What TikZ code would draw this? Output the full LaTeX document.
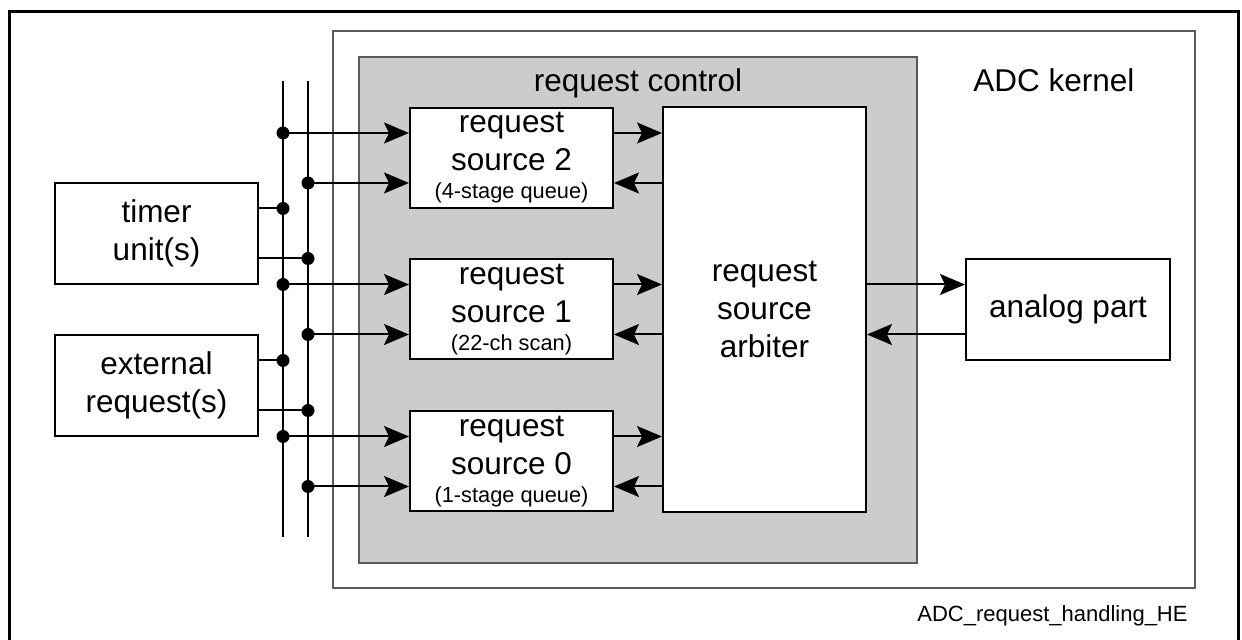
\documentclass[tikz,border=0pt]{standalone}
\usepackage{fontspec}
\setmainfont{Liberation Sans}
\usetikzlibrary{positioning,arrows.meta}
\usepackage{xcolor}
\definecolor{ctrlc}{RGB}{204,204,204}
\definecolor{edgec}{RGB}{90,90,90}
\newcommand{\lblfnt}{\fontsize{15.75pt}{19pt}\selectfont}
\newcommand{\smallfnt}{\fontsize{10.9pt}{13pt}\selectfont}
\newcommand{\tagfnt}{\fontsize{11pt}{13pt}\selectfont}
\tikzset{
  blk/.style={draw=black, line width=1pt, fill=white, align=center, font=\lblfnt, inner sep=0pt, minimum width=101.5pt, minimum height=50.5pt},
  srcbox/.style={blk, minimum height=50pt},
  frame/.style={draw=edgec, line width=0.6pt, inner sep=0pt},
  wire/.style={line width=1pt, black},
  flow/.style={wire, -{Stealth[length=12.5pt, width=10.5pt, inset=2.5pt]}},
  junc/.style={fill=black}
}

\begin{document}
\begin{tikzpicture}[x=0.5pt, y=-0.5pt]
  \useasboundingbox (0,0) rectangle (1242,640);
  \draw[line width=1.5pt] (9.5,640) |- (1238.5,11.5) -- (1238.5,640);

  % containers
  \node[frame, minimum width=431pt, minimum height=278.5pt] (kernel) at (764,309.5) {};
  \node[frame, fill=ctrlc, minimum width=279pt, minimum height=253pt] (ctrl) at (638,310) {};
  \node[font=\lblfnt, anchor=base] (ctrllbl) at (638,92) {request control};
  \node[font=\lblfnt, anchor=base] (kernlbl) at (1054,92) {ADC kernel};
  \node[font=\tagfnt, anchor=base east, inner sep=0pt] (figtag) at (1188,622) {ADC\_request\_handling\_HE};

  % blocks
  \node[blk] (timer) at (156.5,233.5) {timer\\unit(s)};
  \node[blk] (extreq) at (156.5,385.5) {external\\request(s)};
  \node[srcbox] (src2) at (511.5,158) {request\\source 2\\[-5pt]{\smallfnt (4-stage queue)}};
  \node[srcbox] (src1) at (511.5,309.5) {request\\source 1\\[-5pt]{\smallfnt (22-ch scan)}};
  \node[srcbox] (src0) at (511.5,461.5) {request\\source 0\\[-5pt]{\smallfnt (1-stage queue)}};
  \node[blk, minimum height=202.5pt] (arb) at (764.5,309.5) {request\\source\\arbiter};
  \node[blk, minimum width=102pt] (analog) at (1068,309.5) {analog part};

  % request busses
  \coordinate (busA) at (283,81);
  \coordinate (busAend) at (283,537);
  \coordinate (busB) at (308,81);
  \coordinate (busBend) at (308,537);
  \draw[wire] (busA) -- (busAend);
  \draw[wire] (busB) -- (busBend);

  \foreach \m in {timer,extreq}{
    \coordinate (u\m) at ([yshift=12.5pt]\m.east);
    \coordinate (d\m) at ([yshift=-12.5pt]\m.east);
    \draw[wire] (u\m) -- (busA |- u\m);
    \draw[wire] (d\m) -- (busB |- d\m);
    \fill[junc] (busA |- u\m) circle[radius=3.25pt];
    \fill[junc] (busB |- d\m) circle[radius=3.25pt];
  }

  \foreach \s in {src2,src1,src0}{
    \coordinate (l1\s) at ([yshift=12.5pt]\s.west);
    \coordinate (l3\s) at ([yshift=-12.5pt]\s.west);
    \coordinate (r1\s) at ([yshift=12.5pt]\s.east);
    \coordinate (r3\s) at ([yshift=-12.5pt]\s.east);
    \draw[flow] (busA |- l1\s) -- (l1\s);
    \draw[flow] (busB |- l3\s) -- (l3\s);
    \fill[junc] (busA |- l1\s) circle[radius=3.25pt];
    \fill[junc] (busB |- l3\s) circle[radius=3.25pt];
    \draw[flow] (r1\s) -- (arb.west |- r1\s);
    \draw[flow] (arb.west |- r3\s) -- (r3\s);
  }

  % arbiter <-> analog part
  \coordinate (a1) at ([yshift=12.5pt]analog.west);
  \coordinate (a3) at ([yshift=-12.5pt]analog.west);
  \draw[flow] (arb.east |- a1) -- (a1);
  \draw[flow] (a3) -- (arb.east |- a3);
\end{tikzpicture}
\end{document}
